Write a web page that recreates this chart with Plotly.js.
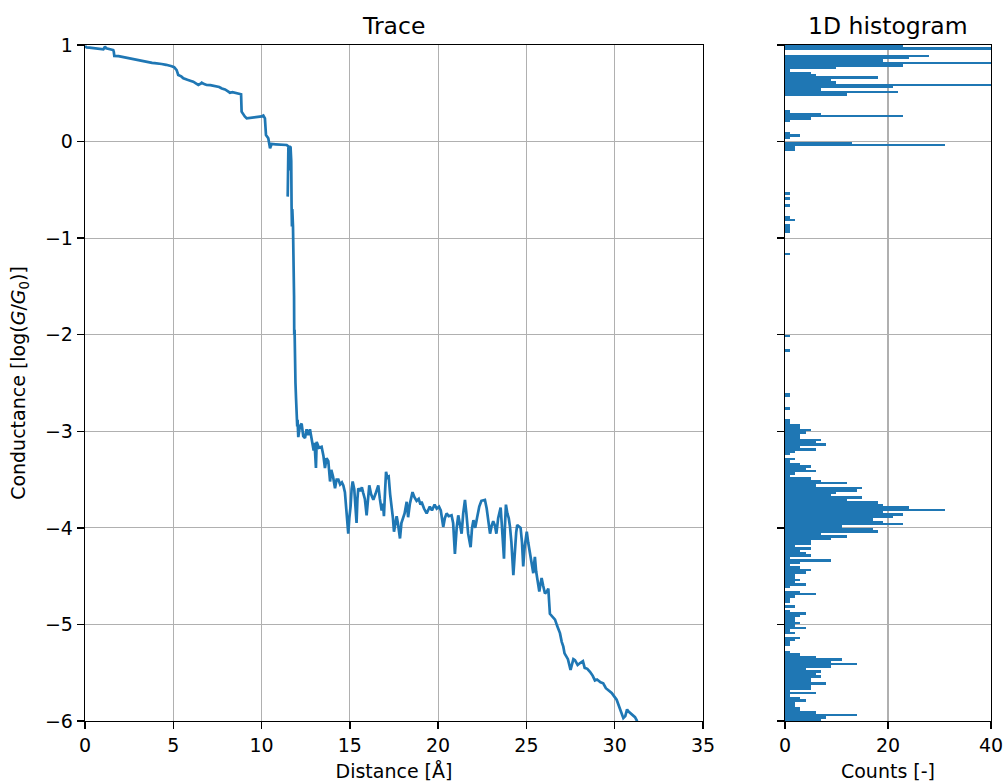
<!DOCTYPE html>
<html>
<head>
<meta charset="utf-8">
<script src="https://cdn.plot.ly/plotly-3.0.1.min.js"></script>
<style>html,body{margin:0;padding:0;background:#fff;}#plot{width:1005px;height:783px;}</style>
</head>
<body>
<div id="plot"></div>
<script>
// ---- Trace data (distance in Å, conductance in log(G/G0)) ----
const distance = [
 0.0,0.09,0.25,0.4,0.55,0.7,0.85,1.04,1.1,1.13,1.2,1.3,1.45,1.6,1.63,1.66,1.9,2.05,2.2,2.35,2.55,2.7,2.8,2.95,3.1,3.3,3.49,3.65,3.8,3.95,4.1,4.34,4.6,4.75,4.91,5.05,5.19,5.28,5.45,5.57,5.7,5.8,6.0,6.13,6.3,6.42,6.55,6.61,6.75,6.89,7.1,7.27,7.5,7.6,7.75,7.93,8.1,8.21,8.35,8.5,8.65,8.78,8.84,8.87,8.97,9.05,9.16,9.35,9.53,9.65,9.8,9.92,10.0,10.1,10.19,10.25,10.3,10.38,10.48,10.57,10.8,11.1,11.42,11.52,
 11.5,11.48,11.52,11.58,11.62,11.64,11.68,11.7,11.72,11.74,11.78,11.82,11.84,11.85,11.86,11.87,11.88,11.9,11.92,11.95,11.98,12.02,
 12.04,12.08,12.17,12.27,12.36,12.46,12.55,12.64,12.74,12.85,12.95,13.0,13.08,13.12,13.25,13.4,13.5,13.59,13.68,13.78,13.88,13.95,14.05,14.16,14.25,14.35,14.45,14.55,14.63,14.72,14.82,14.91,14.97,15.04,15.1,15.16,15.25,15.3,15.38,15.43,15.48,15.58,15.68,15.76,15.85,15.95,16.02,16.1,16.2,16.33,16.45,16.55,16.61,16.7,16.8,16.88,16.93,17.0,17.05,17.12,17.2,17.28,17.37,17.44,17.5,17.58,17.65,17.72,17.84,17.92,18.0,18.1,18.22,18.3,18.4,18.48,18.55,18.65,18.78,18.9,19.0,19.06,19.2,19.35,19.45,19.53,19.65,19.8,19.92,20.05,20.15,20.29,20.38,20.48,20.6,20.76,20.85,20.95,21.05,21.14,21.22,21.33,21.42,21.52,21.6,21.7,21.84,21.92,22.0,22.1,22.2,22.33,22.45,22.56,22.65,22.75,22.85,22.94,23.03,23.12,23.22,23.3,23.4,23.54,23.6,23.66,23.73,23.78,23.84,23.92,24.0,24.07,24.15,24.26,24.35,24.42,24.48,24.57,24.67,24.75,24.82,24.9,25.02,25.1,25.2,25.3,25.39,25.45,25.48,25.55,25.62,25.73,25.8,25.86,25.95,26.05,26.15,26.24,26.33,26.45,26.62,26.75,26.9,27.0,27.09,27.16,27.24,27.35,27.5,27.58,27.66,27.75,27.9,28.04,28.2,28.3,28.45,28.6,28.75,28.88,29.0,29.2,29.35,29.5,29.7,29.83,29.95,30.11,30.25,30.4,30.49,30.6,30.7,30.77,30.9,31.05,31.15,31.24,31.3
];
const conductance = [
 0.99,0.975,0.972,0.968,0.962,0.965,0.958,0.955,0.97,0.983,0.965,0.96,0.955,0.948,0.93,0.886,0.884,0.878,0.875,0.87,0.862,0.857,0.85,0.846,0.84,0.832,0.827,0.82,0.815,0.812,0.81,0.803,0.795,0.79,0.78,0.77,0.74,0.69,0.675,0.655,0.65,0.64,0.628,0.62,0.6,0.586,0.6,0.61,0.595,0.586,0.585,0.58,0.57,0.565,0.55,0.54,0.52,0.506,0.512,0.505,0.502,0.50,0.49,0.31,0.275,0.26,0.24,0.245,0.25,0.248,0.255,0.262,0.26,0.27,0.24,0.068,0.05,0.034,-0.07,-0.025,-0.028,-0.03,-0.035,-0.05,
 -0.45,-0.57,-0.10,-0.04,-0.30,-0.05,-0.2,-0.67,-0.88,-0.70,-0.88,-1.2,-1.6,-2.0,-2.14,-1.95,-2.2,-2.35,-2.5,-2.65,-2.8,-2.95,
 -2.88,-3.06,-2.95,-2.92,-3.05,-3.07,-2.98,-3.04,-2.98,-3.1,-3.2,-3.12,-3.38,-3.11,-3.17,-3.16,-3.25,-3.38,-3.28,-3.31,-3.52,-3.40,-3.47,-3.59,-3.50,-3.50,-3.55,-3.53,-3.56,-3.63,-3.88,-4.06,-3.9,-3.78,-3.6,-3.52,-3.6,-3.8,-3.95,-3.7,-3.59,-3.62,-3.58,-3.64,-3.7,-3.87,-3.7,-3.56,-3.65,-3.71,-3.65,-3.6,-3.56,-3.7,-3.82,-3.75,-3.88,-3.6,-3.42,-3.48,-3.47,-3.65,-3.78,-3.9,-4.04,-3.95,-3.88,-3.95,-4.11,-3.95,-3.90,-3.85,-3.73,-3.89,-3.75,-3.68,-3.63,-3.68,-3.72,-3.7,-3.76,-3.73,-3.8,-3.85,-3.8,-3.78,-3.82,-3.76,-3.8,-3.78,-3.82,-3.99,-3.9,-3.85,-3.88,-3.87,-3.95,-4.27,-4.0,-3.87,-3.95,-4.06,-3.85,-3.71,-3.85,-4.06,-4.20,-4.0,-3.92,-4.0,-3.9,-3.78,-3.72,-3.71,-3.71,-3.8,-3.95,-4.06,-3.98,-3.93,-3.98,-4.06,-3.9,-3.79,-3.95,-4.2,-4.32,-4.0,-3.76,-3.85,-3.9,-3.99,-4.15,-4.49,-4.2,-4.05,-3.97,-3.99,-4.0,-4.15,-4.40,-4.2,-4.04,-4.15,-4.25,-4.38,-4.47,-4.35,-4.30,-4.45,-4.55,-4.66,-4.58,-4.52,-4.6,-4.68,-4.66,-4.63,-4.89,-4.92,-4.95,-5.02,-5.09,-5.18,-5.23,-5.3,-5.33,-5.36,-5.47,-5.4,-5.36,-5.37,-5.42,-5.40,-5.38,-5.45,-5.46,-5.49,-5.53,-5.58,-5.57,-5.6,-5.61,-5.66,-5.69,-5.71,-5.74,-5.78,-5.85,-5.92,-5.97,-5.95,-5.88,-5.90,-5.92,-5.95,-5.96,-5.99,-6.02
];

// ---- 1D histogram: bins of 0.025 from top (1) downward, counts read per bin ----
const histTop = 1;
const histBinWidth = 0.025;
const histCounts = [
 23,40,0,0,28,24,19,40,23,10, 1,5,6,18,9,10,40,21,7,22,
 12,0,0,0,0,0,0,1,7,23, 5,1,0,0,0,0,1,3,1,0,
 13,31,2,2,0,0,0,0,0,0, 0,0,0,0,0,0,0,0,0,0,
 0,1,0,1,0,0,1,0,0,0, 0,1,2,0,1,1,1,1,0,0,
 0,0,0,0,0,0,1,0,0,0, 0,0,0,0,0,0,0,0,0,0,
 0,0,0,0,0,0,0,0,0,0, 0,0,0,0,0,0,0,0,0,0,
 1,0,0,0,0,0,1,0,0,0, 0,0,0,0,0,0,0,0,0,0,
 0,0,0,0,1,1,0,0,0,0, 1,0,0,0,0,1,1,3,3,5,
 4,3,3,7,6,8,3,6,2,1, 0,2,1,3,5,4,6,2,1,5,
 7,12,6,15,14,10,9,15,12,18, 19,24,31,19,23,21,17,19,23,11,
 17,18,7,12,9,5,5,2,5,3, 4,5,1,9,3,1,3,5,4,2,
 2,3,2,4,1,0,3,6,2,1, 1,0,2,0,1,4,3,2,2,3,
 2,4,1,2,0,3,2,1,1,0, 0,1,3,6,11,9,14,9,4,7,
 6,7,5,5,8,5,5,1,6,1, 3,4,2,2,3,3,6,14,8,7
];
const histCenters = histCounts.map((c, i) => histTop - histBinWidth * (i + 0.5));

const blue = '#1f77b4';
const font = {family: 'DejaVu Sans, sans-serif', size: 19, color: '#000'};
const titleFont = {family: 'DejaVu Sans, sans-serif', size: 23.5, color: '#000'};

const traces = [
  {x: distance, y: conductance, type: 'scatter', mode: 'lines',
   line: {color: blue, width: 2.7}, xaxis: 'x', yaxis: 'y', hoverinfo: 'skip'},
  {x: histCounts, y: histCenters, type: 'bar', orientation: 'h',
   width: histBinWidth, marker: {color: blue, line: {width: 0}},
   xaxis: 'x2', yaxis: 'y2', hoverinfo: 'skip'}
];

const axCommon = {
  showline: true, mirror: true, linecolor: '#000', linewidth: 1.3,
  ticks: 'outside', ticklen: 7, tickwidth: 1.3, tickcolor: '#000',
  showgrid: true, gridcolor: '#b0b0b0', gridwidth: 1.2,
  zeroline: false, tickfont: font, automargin: false
};

const layout = {
  width: 1005, height: 783,
  margin: {l: 85, r: 14, t: 45, b: 62},
  paper_bgcolor: '#fff', plot_bgcolor: '#fff',
  font: font, showlegend: false, bargap: 0,
  xaxis: Object.assign({}, axCommon, {
    domain: [0, 0.6821], range: [0, 35], dtick: 5, tick0: 0, anchor: 'y',
    title: {text: 'Distance [Å]', font: font, standoff: 9}
  }),
  yaxis: Object.assign({}, axCommon, {
    domain: [0, 1], range: [-6, 1], dtick: 1, tick0: 0, anchor: 'x',
    title: {text: 'Conductance [log(<i>G</i>/<i>G</i><sub>0</sub>)]', font: font, standoff: 14}
  }),
  xaxis2: Object.assign({}, axCommon, {
    domain: [0.7726, 1], range: [0, 40], dtick: 20, tick0: 0, anchor: 'y2',
    layer: 'above traces',
    title: {text: 'Counts [-]', font: font, standoff: 9}
  }),
  yaxis2: Object.assign({}, axCommon, {
    domain: [0, 1], range: [-6, 1], dtick: 1, tick0: 0, anchor: 'x2',
    showticklabels: false, layer: 'above traces'
  }),
  annotations: [
    {text: 'Trace', xref: 'paper', yref: 'paper', x: 0.34105, y: 1,
     xanchor: 'center', yanchor: 'bottom', yshift: 3, showarrow: false, font: titleFont},
    {text: '1D histogram', xref: 'paper', yref: 'paper', x: 0.8863, y: 1,
     xanchor: 'center', yanchor: 'bottom', yshift: 3, showarrow: false, font: titleFont}
  ]
};

Plotly.newPlot('plot', traces, layout, {staticPlot: true, displayModeBar: false});
</script>
</body>
</html>
